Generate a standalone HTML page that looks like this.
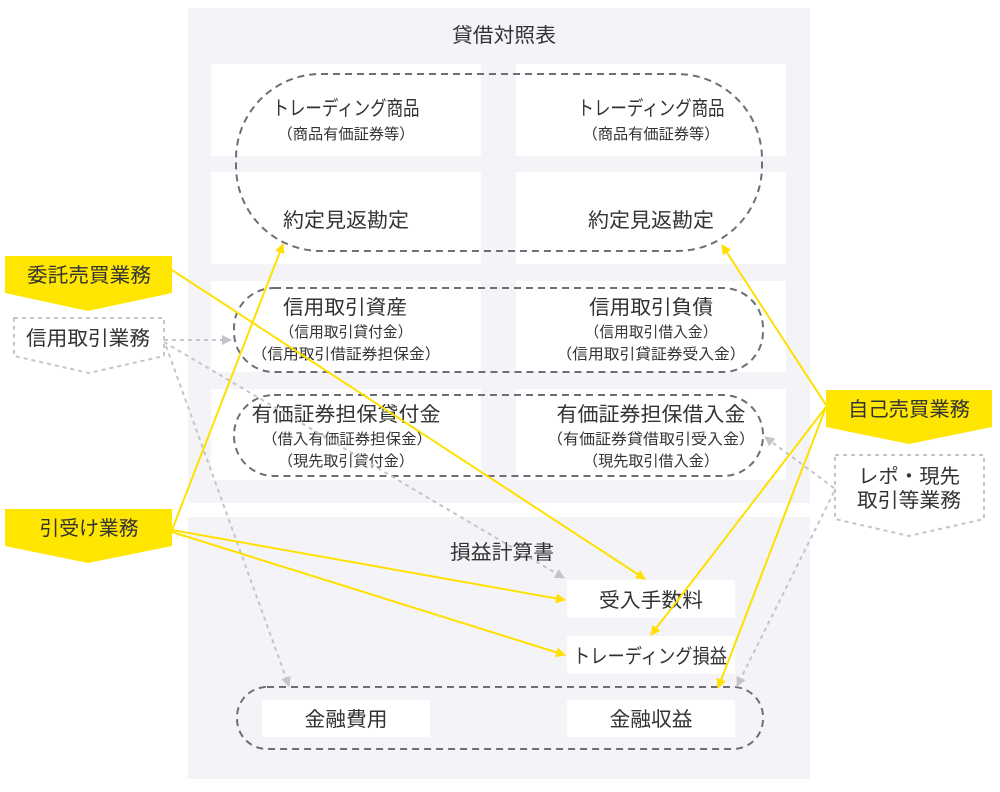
<!DOCTYPE html>
<html><head><meta charset="utf-8"><style>
body{margin:0;background:#fff;}
svg text{font-family:"Liberation Sans","Noto Sans CJK JP",sans-serif;fill:#333;}
</style></head><body>
<svg width="1000" height="787" viewBox="0 0 1000 787" xmlns="http://www.w3.org/2000/svg">
<defs>
<marker id="ay" viewBox="0 0 10 10" refX="9" refY="5" markerWidth="5" markerHeight="5" orient="auto"><path d="M0,0L10,5L0,10z" fill="#ffe000"/></marker>
<marker id="ag" viewBox="0 0 10 10" refX="9" refY="5" markerWidth="5" markerHeight="5" orient="auto"><path d="M0,0L10,5L0,10z" fill="#c4c4cc"/></marker>
</defs>
<rect x="188" y="8" width="622" height="495" fill="#f4f4f8"/>
<rect x="188" y="517" width="622" height="262" fill="#f4f4f8"/>
<g fill="#fff">
<rect x="211" y="64" width="270" height="92"/><rect x="516" y="64" width="270" height="92"/>
<rect x="211" y="172" width="270" height="92"/><rect x="516" y="172" width="270" height="92"/>
<rect x="211" y="281" width="270" height="91"/><rect x="516" y="281" width="270" height="91"/>
<rect x="211" y="389" width="270" height="91"/><rect x="516" y="389" width="270" height="91"/>
<rect x="567" y="580" width="168" height="38"/><rect x="567" y="636" width="168" height="38"/>
<rect x="262" y="700" width="168" height="37"/><rect x="567" y="700" width="168" height="37"/>
</g>
<g fill="none" stroke="#6e6e78" stroke-width="2" stroke-dasharray="7,5">
<rect x="236" y="74" width="526" height="177" rx="85" ry="85"/>
<rect x="234" y="288" width="529" height="84" rx="40" ry="40"/>
<rect x="234" y="395" width="529" height="81" rx="40" ry="40"/>
<rect x="237" y="687" width="526" height="62" rx="30" ry="30"/>
</g>
<g font-size="20" text-anchor="middle" lengthAdjust="spacingAndGlyphs">
<text x="504" y="42" textLength="104" lengthAdjust="spacingAndGlyphs">貸借対照表</text>
<text x="346" y="115" textLength="147" lengthAdjust="spacingAndGlyphs">トレーディング商品</text>
<text x="346" y="139" font-size="15" textLength="137" lengthAdjust="spacingAndGlyphs">（商品有価証券等）</text>
<text x="651" y="115" textLength="147" lengthAdjust="spacingAndGlyphs">トレーディング商品</text>
<text x="651" y="139" font-size="15" textLength="137" lengthAdjust="spacingAndGlyphs">（商品有価証券等）</text>
<text x="346" y="227" textLength="126" lengthAdjust="spacingAndGlyphs">約定見返勘定</text>
<text x="651" y="227" textLength="126" lengthAdjust="spacingAndGlyphs">約定見返勘定</text>
<text x="345" y="314" textLength="124" lengthAdjust="spacingAndGlyphs">信用取引資産</text>
<text x="346" y="337" font-size="15" textLength="133" lengthAdjust="spacingAndGlyphs">（信用取引貸付金）</text>
<text x="346" y="359" font-size="15" textLength="189" lengthAdjust="spacingAndGlyphs">（信用取引借証券担保金）</text>
<text x="651" y="314" textLength="124" lengthAdjust="spacingAndGlyphs">信用取引負債</text>
<text x="651" y="337" font-size="15" textLength="133" lengthAdjust="spacingAndGlyphs">（信用取引借入金）</text>
<text x="651" y="359" font-size="15" textLength="189" lengthAdjust="spacingAndGlyphs">（信用取引貸証券受入金）</text>
<text x="346" y="421" textLength="189" lengthAdjust="spacingAndGlyphs">有価証券担保貸付金</text>
<text x="347" y="444" font-size="15" textLength="170" lengthAdjust="spacingAndGlyphs">（借入有価証券担保金）</text>
<text x="346" y="466" font-size="15" textLength="136" lengthAdjust="spacingAndGlyphs">（現先取引貸付金）</text>
<text x="651" y="421" textLength="189" lengthAdjust="spacingAndGlyphs">有価証券担保借入金</text>
<text x="651" y="444" font-size="15" textLength="208" lengthAdjust="spacingAndGlyphs">（有価証券貸借取引受入金）</text>
<text x="651" y="466" font-size="15" textLength="136" lengthAdjust="spacingAndGlyphs">（現先取引借入金）</text>
<text x="502" y="559" textLength="104" lengthAdjust="spacingAndGlyphs">損益計算書</text>
<text x="651" y="607" textLength="104" lengthAdjust="spacingAndGlyphs">受入手数料</text>
<text x="650" y="663" textLength="154" lengthAdjust="spacingAndGlyphs">トレーディング損益</text>
<text x="346" y="726" textLength="83" lengthAdjust="spacingAndGlyphs">金融費用</text>
<text x="651" y="726" textLength="83" lengthAdjust="spacingAndGlyphs">金融収益</text>
</g>
<g fill="none" stroke="#c4c4cc" stroke-width="2" stroke-dasharray="4,4">
<line x1="164" y1="340" x2="231" y2="340" marker-end="url(#ag)"/>
<line x1="164" y1="342" x2="564" y2="578" marker-end="url(#ag)"/>
<line x1="166" y1="346" x2="289" y2="686" marker-end="url(#ag)"/>
<line x1="834" y1="488" x2="765" y2="437" marker-end="url(#ag)"/>
<line x1="834" y1="492" x2="737" y2="686" marker-end="url(#ag)"/>
</g>
<g fill="none" stroke="#ffe000" stroke-width="2">
<line x1="172" y1="270" x2="645" y2="579" marker-end="url(#ay)"/>
<line x1="172" y1="530" x2="283" y2="244" marker-end="url(#ay)"/>
<line x1="172" y1="530" x2="565" y2="600" marker-end="url(#ay)"/>
<line x1="172" y1="532" x2="565" y2="655" marker-end="url(#ay)"/>
<line x1="826" y1="405" x2="722" y2="245" marker-end="url(#ay)"/>
<line x1="826" y1="407" x2="651" y2="635" marker-end="url(#ay)"/>
<line x1="826" y1="407" x2="718" y2="688" marker-end="url(#ay)"/>
</g>
<polygon points="5,256 172,256 172,293 88,311 5,293" fill="#ffe600"/>
<polygon points="5,509 172,509 172,546 88,563 5,546" fill="#ffe600"/>
<polygon points="826,390 992,390 992,427 909,444 826,427" fill="#ffe600"/>
<polygon points="14,318 164,318 164,356 89,373 14,356" fill="#fff" stroke="#c4c4cc" stroke-width="2" stroke-dasharray="4,4"/>
<polygon points="835,455 984,455 984,519 909,536 835,519" fill="#fff" stroke="#c4c4cc" stroke-width="2" stroke-dasharray="4,4"/>
<g font-size="20" text-anchor="middle">
<text x="89" y="282" textLength="124" lengthAdjust="spacingAndGlyphs">委託売買業務</text>
<text x="89" y="535" textLength="99" lengthAdjust="spacingAndGlyphs">引受け業務</text>
<text x="909" y="416" textLength="122" lengthAdjust="spacingAndGlyphs">自己売買業務</text>
<text x="88" y="345" textLength="124" lengthAdjust="spacingAndGlyphs">信用取引業務</text>
<text x="909" y="483" textLength="102" lengthAdjust="spacingAndGlyphs">レポ・現先</text>
<text x="909" y="507" textLength="104" lengthAdjust="spacingAndGlyphs">取引等業務</text>
</g>
</svg>
</body></html>
